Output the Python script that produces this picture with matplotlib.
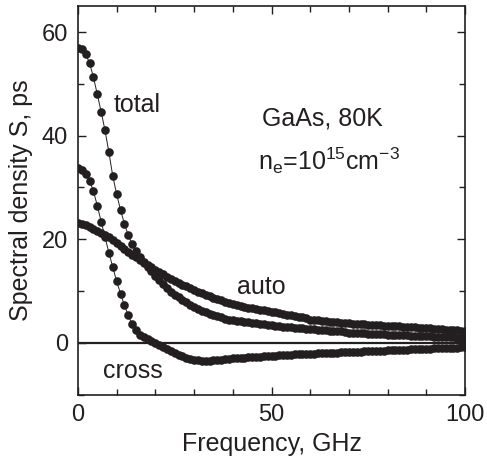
import numpy as np
import matplotlib
matplotlib.use("Agg")
import matplotlib.pyplot as plt
from matplotlib.ticker import MultipleLocator

plt.rcParams['font.family'] = ['Liberation Sans', 'DejaVu Sans']
plt.rcParams['mathtext.fontset'] = 'custom'
plt.rcParams['mathtext.rm'] = 'Liberation Sans'

# frequency grid, GHz (one point per GHz)
freq = np.arange(0, 101)

total = [57.0, 56.7, 55.8, 54.0, 51.3, 48.0, 44.6, 41.0, 36.8, 32.2,
         28.7, 25.7, 23.0, 20.8, 19.1, 17.7, 16.6, 15.6, 14.7, 13.8,
         13.0, 12.2, 11.4, 10.6, 9.9, 9.3, 8.8, 8.3, 7.9, 7.4,
         7.0, 6.6, 6.2, 5.9, 5.6, 5.3, 5.1, 4.9, 4.7, 4.5,
         4.4, 4.3, 4.2, 4.1, 4.0, 3.9, 3.8, 3.7, 3.6, 3.5,
         3.4, 3.3, 3.2, 3.1, 3.1, 3.0, 2.9, 2.9, 2.8, 2.7,
         2.6, 2.6, 2.5, 2.4, 2.4, 2.3, 2.3, 2.2, 2.2, 2.1,
         2.0, 2.0, 1.9, 1.9, 1.9, 1.8, 1.8, 1.7, 1.7, 1.7,
         1.6, 1.6, 1.6, 1.5, 1.5, 1.5, 1.4, 1.4, 1.4, 1.3,
         1.3, 1.3, 1.2, 1.2, 1.2, 1.1, 1.1, 1.1, 1.0, 1.0,
         1.0]

auto = [23.1, 23.0, 22.8, 22.4, 22.0, 21.6, 21.2, 20.9, 20.5, 19.9,
        19.3, 18.7, 18.1, 17.6, 17.0, 16.5, 16.0, 15.5, 15.0, 14.6,
        14.1, 13.7, 13.2, 12.8, 12.4, 12.0, 11.6, 11.2, 10.9, 10.6,
        10.2, 9.9, 9.6, 9.3, 9.0, 8.7, 8.4, 8.2, 7.9, 7.7,
        7.5, 7.3, 7.2, 7.0, 6.8, 6.7, 6.5, 6.4, 6.3, 6.1,
        6.0, 5.9, 5.7, 5.6, 5.4, 5.3, 5.2, 5.0, 4.9, 4.8,
        4.5, 4.4, 4.4, 4.3, 4.2, 4.1, 4.0, 4.0, 3.9, 3.9,
        3.8, 3.7, 3.7, 3.6, 3.6, 3.5, 3.5, 3.4, 3.4, 3.3,
        3.3, 3.3, 3.2, 3.2, 3.1, 3.1, 3.0, 3.0, 2.9, 2.9,
        2.8, 2.8, 2.7, 2.7, 2.6, 2.5, 2.5, 2.4, 2.4, 2.3,
        2.2]

cross = [33.7, 33.3, 32.6, 31.3, 29.3, 26.5, 23.4, 20.4, 17.4, 14.6,
         11.9, 9.5, 7.3, 5.3, 3.6, 2.4, 1.6, 1.1, 0.7, 0.3,
         -0.1, -0.5, -0.8, -1.2, -1.5, -1.9, -2.3, -2.6, -2.9, -3.1,
         -3.3, -3.4, -3.5, -3.5, -3.5, -3.4, -3.4, -3.3, -3.2, -3.1,
         -3.0, -3.0, -2.9, -2.9, -2.8, -2.8, -2.7, -2.7, -2.6, -2.6,
         -2.5, -2.5, -2.4, -2.4, -2.3, -2.3, -2.2, -2.2, -2.2, -2.1,
         -2.1, -2.1, -2.0, -2.0, -2.0, -1.9, -1.9, -1.9, -1.8, -1.8,
         -1.8, -1.7, -1.7, -1.7, -1.6, -1.6, -1.6, -1.5, -1.5, -1.5,
         -1.4, -1.4, -1.4, -1.3, -1.3, -1.3, -1.2, -1.2, -1.2, -1.1,
         -1.1, -1.1, -1.0, -1.0, -1.0, -0.9, -0.9, -0.9, -0.9, -0.8,
         -0.8]

ink = '#231f20'

fig = plt.figure(figsize=(4.87, 4.62), dpi=100)
ax = fig.add_axes([0.160, 0.1457, 0.795, 0.841])

ax.axhline(0, color=ink, lw=1.6, zorder=1)
for s in (total, auto, cross):
    ax.plot(freq, s, 'o', color=ink, ms=6.2, mew=0, zorder=2)
    ax.plot(freq, s, '-', color=ink, lw=0.7, zorder=3)

ax.set_xlim(0, 100)
ax.set_ylim(-10, 65)
ax.xaxis.set_major_locator(MultipleLocator(50))
ax.xaxis.set_minor_locator(MultipleLocator(10))
ax.yaxis.set_major_locator(MultipleLocator(20))
ax.yaxis.set_minor_locator(MultipleLocator(10))
ax.tick_params(which='both', direction='in', top=True, right=True,
               width=1.0, color=ink, labelsize=17, labelcolor=ink)
ax.tick_params(which='major', length=6, pad=7)
ax.tick_params(which='minor', length=4)
for sp in ax.spines.values():
    sp.set_linewidth(1.2)
    sp.set_color(ink)

ax.set_xlabel('Frequency, GHz', fontsize=18, color=ink, labelpad=4)
ax.set_ylabel('Spectral density S, ps', fontsize=18, color=ink, labelpad=6)

tkw = dict(fontsize=18, color=ink, va='baseline', ha='left')
ax.text(9.1, 44.6, 'total', **tkw)
ax.text(47.5, 42.0, 'GaAs, 80K', **tkw)
ax.text(46.6, 33.4,
        r'n$_{\mathregular{e}}$=10$^{\mathregular{15}}$cm$^{\mathregular{-3}}$',
        **tkw)
ax.text(41.0, 9.5, 'auto', **tkw)
ax.text(6.5, -6.8, 'cross', **tkw)

fig.savefig('out.png', dpi=100)
